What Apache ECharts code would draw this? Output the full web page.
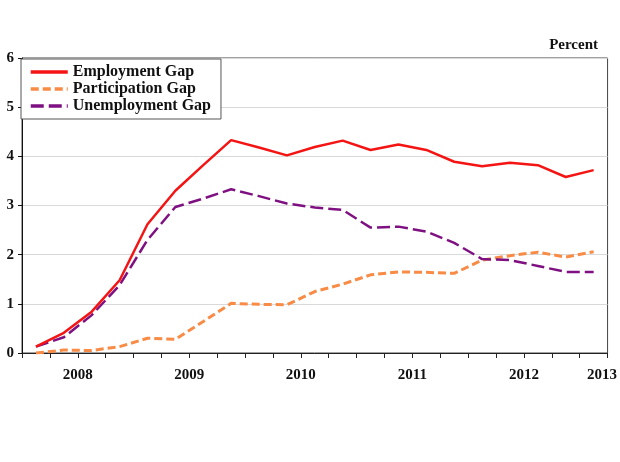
<!DOCTYPE html>
<html>
<head>
<meta charset="utf-8">
<script src="https://cdn.jsdelivr.net/npm/echarts@6/dist/echarts.min.js"></script>
<style>html,body{margin:0;padding:0;background:#fff}#c{width:620px;height:462px}</style>
</head>
<body>
<div id="c"></div>
<script>
// Quarterly data, 2008Q1 .. 2013Q1
var quarters = ['2008Q1','2008Q2','2008Q3','2008Q4','2009Q1','2009Q2','2009Q3','2009Q4',
  '2010Q1','2010Q2','2010Q3','2010Q4','2011Q1','2011Q2','2011Q3','2011Q4',
  '2012Q1','2012Q2','2012Q3','2012Q4','2013Q1'];
var employmentGap = [0.13,0.41,0.84,1.48,2.62,3.30,3.82,4.33,4.18,4.02,4.19,4.32,4.13,4.24,4.13,3.89,3.80,3.87,3.82,3.58,3.72];
var participationGap = [0.00,0.06,0.05,0.13,0.30,0.28,0.64,1.01,0.99,0.98,1.25,1.40,1.59,1.65,1.64,1.62,1.89,1.98,2.05,1.95,2.06];
var unemploymentGap = [0.13,0.32,0.77,1.38,2.30,2.97,3.14,3.33,3.19,3.04,2.96,2.91,2.55,2.57,2.47,2.24,1.91,1.89,1.77,1.65,1.65];
var yearLabels = ['2008','2009','2010','2011','2012','2013'];
var yearLabelPos = [2,6,10,14,18,20.8];

function pts(arr){ return arr.map(function(v,i){ return [i+0.5, v]; }); }
var tickVals = quarters.map(function(q,i){ return i; }).concat([quarters.length]);

var font = 'Liberation Serif';
var chart = echarts.init(document.getElementById('c'));
chart.setOption({
  animation:false,
  backgroundColor:'#fff',
  title:{text:'Percent', right:17, top:33, textStyle:{fontFamily:font, fontWeight:'bold', fontSize:15, color:'#111'}},
  legend:{
    left:21, top:59, orient:'vertical',
    backgroundColor:'#fff', borderColor:'#555', borderWidth:1,
    padding:[5,10,5,8], itemGap:1, itemWidth:37, itemHeight:15,
    itemStyle:{opacity:0},
    lineStyle:{width:3.5},
    textStyle:{fontFamily:font, fontWeight:'bold', fontSize:16, color:'#111'},
    data:['Employment Gap','Participation Gap','Unemployment Gap']
  },
  grid:{left:22, right:12, top:58, bottom:109, show:true, borderColor:'#444', borderWidth:1},
  xAxis:{
    type:'value', min:0, max:quarters.length,
    axisLine:{show:true, lineStyle:{color:'#222'}},
    axisTick:{show:true, customValues:tickVals, length:5, lineStyle:{color:'#222'}},
    splitLine:{show:false},
    axisLabel:{customValues:yearLabelPos, margin:15, fontFamily:font, fontWeight:'bold', fontSize:15, color:'#111',
      formatter:function(v){ var k=-1; for(var j=0;j<yearLabelPos.length;j++){ if(Math.abs(yearLabelPos[j]-v)<0.05) k=j; } return k>=0?yearLabels[k]:''; }}
  },
  yAxis:{
    type:'value', min:0, max:6, interval:1,
    axisLine:{show:true, lineStyle:{color:'#111'}},
    axisTick:{show:true, length:4, lineStyle:{color:'#111'}},
    splitLine:{show:true, lineStyle:{color:'#d9d9d9'}},
    axisLabel:{margin:8, fontFamily:font, fontWeight:'bold', fontSize:15, color:'#111'}
  },
  series:[
    {name:'Employment Gap', type:'line', data:pts(employmentGap), symbol:'none', z:3,
      lineStyle:{color:'#f41414', width:2.5}, itemStyle:{color:'#f41414'}},
    {name:'Participation Gap', type:'line', data:pts(participationGap), symbol:'none', z:2,
      lineStyle:{color:'#f88b45', width:3, type:[8,4]}, itemStyle:{color:'#f88b45'}},
    {name:'Unemployment Gap', type:'line', data:pts(unemploymentGap), symbol:'none', z:2,
      lineStyle:{color:'#7f1082', width:2.5, type:[13,5]}, itemStyle:{color:'#7f1082'}}
  ]
});
</script>
</body>
</html>
